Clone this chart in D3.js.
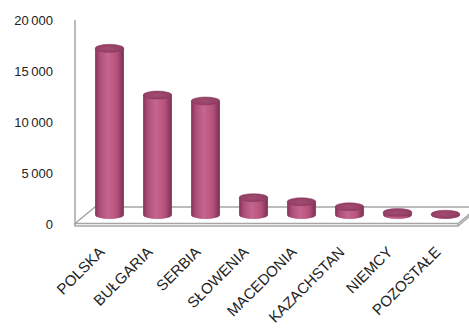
<!DOCTYPE html>
<html><head><meta charset="utf-8">
<script src="https://cdn.jsdelivr.net/npm/d3@7"></script>
<style>body{margin:0;background:#fff}svg{display:block}</style>
</head><body>
<svg id="c" width="469" height="332"></svg>
<script>
const categories = ["POLSKA","BUŁGARIA","SERBIA","SŁOWENIA","MACEDONIA","KAZACHSTAN","NIEMCY","POZOSTAŁE"];
const values = [16340, 11760, 11180, 1700, 1300, 810, 250, 80];
const yTicks = [0, 5000, 10000, 15000, 20000];

const svg = d3.select("#c");
const font = "'Liberation Sans', Arial, sans-serif";
const y = d3.scaleLinear().domain([0, 20000]).range([224, 20]);
const x = d3.scaleBand().domain(categories).range([85.5, 469.5]).padding(0);
const depthX = 20, depthY = 17;
const midOff = 9;
const barW = x.bandwidth() * 0.6, rx = barW / 2, ry = 4;

const defs = svg.append("defs");
const g = defs.append("linearGradient").attr("id","side").attr("x1","0").attr("x2","1").attr("y1","0").attr("y2","0");
[["0%","#86345a"],["18%","#b0507b"],["45%","#c5668f"],["75%","#b5527d"],["100%","#7c2f52"]]
  .forEach(([o,c])=>g.append("stop").attr("offset",o).attr("stop-color",c));
const gt = defs.append("radialGradient").attr("id","top").attr("cx","0.45").attr("cy","0.5").attr("r","0.6");
[["0%","#a44c73"],["100%","#8e3b60"]].forEach(([o,c])=>gt.append("stop").attr("offset",o).attr("stop-color",c));

// floor
const x0 = 75, x1 = 458, yf = y(0);
const gray = "#a6a6a6";
svg.append("path")
  .attr("d", `M${x0},${yf-0.5} L${x0+depthX},${yf-depthY} L${x1+depthX},${yf-depthY} L${x1},${yf-0.5} Z`)
  .attr("fill","#fff").attr("stroke",gray).attr("stroke-width",1.5);
svg.append("path")
  .attr("d", `M${x0},${yf-0.5} L${x0},${yf+2} L${x1},${yf+2} L${x1},${yf-0.5} M${x1},${yf+2} L${x1+depthX},${yf+2-depthY}`)
  .attr("fill","none").attr("stroke",gray).attr("stroke-width",1.5);

// y axis
svg.append("line").attr("x1",x0).attr("x2",x0).attr("y1",y(20000)).attr("y2",yf)
  .attr("stroke",gray).attr("stroke-width",1.5);

svg.append("g").selectAll("text").data(yTicks).join("text")
  .attr("x",53).attr("y",d=>y(d)).attr("dy","0.35em").attr("text-anchor","end")
  .attr("font-family",font).attr("font-size",13).attr("fill","#222")
  .text(d=>d3.format(",")(d).replace(/,/g,"\u2009"));

// bars
const bars = svg.append("g").selectAll("g").data(categories).join("g");
bars.each(function(c,i){
  const cx = x(c) + x.bandwidth()/2;
  const yb = y(0) - midOff, yt = y(values[i]) - midOff;
  const s = d3.select(this);
  s.append("path")
    .attr("d", `M${cx-rx},${yt} L${cx-rx},${yb} A${rx},${ry} 0 0 0 ${cx+rx},${yb} L${cx+rx},${yt} Z`)
    .attr("fill","url(#side)");
  s.append("ellipse").attr("cx",cx).attr("cy",yt).attr("rx",rx).attr("ry",ry)
    .attr("fill","url(#top)").attr("stroke","#8a3a5e").attr("stroke-width",0.5);
});

// category labels
svg.append("g").selectAll("text").data(categories).join("text")
  .attr("transform", c=>`translate(${x(c)+x.bandwidth()/2-4},253) rotate(-45)`)
  .attr("text-anchor","end")
  .attr("font-family",font).attr("font-size",15).attr("fill","#222")
  .text(d=>d);
</script>
</body></html>
